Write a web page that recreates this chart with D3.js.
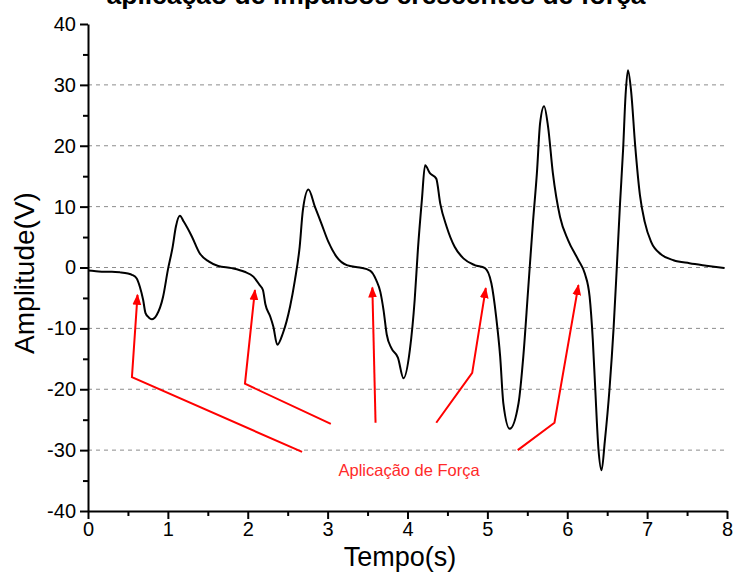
<!DOCTYPE html>
<html>
<head>
<meta charset="utf-8">
<script src="https://cdn.jsdelivr.net/npm/d3@7"></script>
<style>
  html, body { margin: 0; padding: 0; background: #fff; }
  svg { display: block; }
  text { font-family: "Liberation Sans", Arial, sans-serif; }
</style>
</head>
<body>
<svg id="chart" width="733" height="572"></svg>
<script>
// ---- data ----
const titleText = "aplicação de impulsos crescentes de força";
const xLabel = "Tempo(s)";
const yLabel = "Amplitude(V)";
const xTicks = [0, 1, 2, 3, 4, 5, 6, 7, 8];
const yTicks = [-40, -30, -20, -10, 0, 10, 20, 30, 40];
const gridValues = [-30, -20, -10, 0, 10, 20, 30];

const time = [0.00,0.10,0.20,0.30,0.40,0.50,0.55,0.61,0.65,0.69,0.72,0.76,0.80,0.86,0.94,1.00,1.06,1.10,1.15,1.20,1.30,1.40,1.51,1.63,1.80,1.96,2.07,2.15,2.19,2.22,2.28,2.32,2.37,2.44,2.53,2.59,2.65,2.69,2.76,2.84,2.92,3.01,3.11,3.24,3.40,3.53,3.61,3.66,3.70,3.74,3.80,3.88,3.95,4.03,4.09,4.13,4.18,4.22,4.28,4.36,4.41,4.49,4.59,4.70,4.84,4.97,5.05,5.11,5.16,5.20,5.28,5.39,5.45,5.51,5.57,5.62,5.66,5.71,5.76,5.82,5.91,6.01,6.14,6.22,6.28,6.32,6.35,6.39,6.43,6.47,6.53,6.58,6.62,6.66,6.70,6.73,6.76,6.80,6.85,6.91,6.97,7.05,7.18,7.33,7.53,7.74,7.97];
const amplitude = [-0.5,-0.6,-0.7,-0.7,-0.8,-1.0,-1.2,-1.8,-3.2,-5.3,-7.5,-8.2,-8.5,-7.8,-4.8,-0.4,3.4,6.7,8.5,7.5,5.1,2.3,1.0,0.25,-0.1,-0.7,-1.5,-2.9,-3.7,-6.0,-8.0,-9.7,-12.7,-10.8,-6.4,-2.1,3.4,9.4,12.8,10.0,7.3,4.2,1.8,0.4,0.0,-0.5,-2.1,-4.0,-7.0,-11.0,-13.3,-14.8,-18.2,-13.5,-5.3,2.9,11.1,16.8,15.5,14.6,10.5,6.7,3.4,1.5,0.4,-0.1,-2.6,-8.1,-14.6,-22.3,-26.5,-22.3,-14.6,-3.7,7.3,15.5,23.7,26.5,23.1,15.5,8.3,4.5,1.2,-1.0,-4.8,-11.9,-19.8,-29.7,-33.3,-28.6,-19.8,-10.0,-0.1,10.3,19.6,28.3,32.4,28.9,20.1,11.9,7.5,4.2,2.1,1.2,0.7,0.3,-0.1];

// annotation: label and arrow paths (data coordinates, last point = arrow tip)
const annotationText = "Aplicação de Força";
const annotationPos = [4.02, -34.2];
const arrowPaths = [
  [[2.68,-30.3],[0.55,-18.0],[0.62,-4.5]],
  [[3.04,-25.7],[1.965,-19.1],[2.09,-3.7]],
  [[3.60,-25.5],[3.56,-3.3]],
  [[4.36,-25.5],[4.81,-17.3],[4.98,-3.4]],
  [[5.38,-30.0],[5.84,-25.5],[6.14,-2.9]]
];

// ---- drawing ----
const svg = d3.select("#chart");
const x = d3.scaleLinear().domain([0, 8]).range([88, 727]);
const y = d3.scaleLinear().domain([-40, 40]).range([511, 24]);
const fmt = d => String(d);

// grid
svg.append("g").selectAll("line").data(gridValues).join("line")
  .attr("x1", x(0)).attr("x2", x(8))
  .attr("y1", d => y(d)).attr("y2", d => y(d))
  .attr("stroke", "#8c8c8c").attr("stroke-width", 1)
  .attr("stroke-dasharray", "4,4");

// axes
const xMinor = d3.range(0.5, 8, 1);
const yMinor = d3.range(-35, 40, 10);

svg.append("g").attr("transform", `translate(0,${y(-40)})`)
  .call(d3.axisBottom(x).tickValues(xTicks).tickFormat(fmt).tickSize(8).tickSizeOuter(0).tickPadding(3));
svg.append("g").attr("transform", `translate(0,${y(-40)})`)
  .call(d3.axisBottom(x).tickValues(xMinor).tickFormat("").tickSize(5).tickSizeOuter(0))
  .select(".domain").remove();
svg.append("g").attr("transform", `translate(${x(0)},0)`)
  .call(d3.axisLeft(y).tickValues(yTicks).tickFormat(fmt).tickSize(8).tickSizeOuter(0).tickPadding(4));
svg.append("g").attr("transform", `translate(${x(0)},0)`)
  .call(d3.axisLeft(y).tickValues(yMinor).tickFormat("").tickSize(5).tickSizeOuter(0))
  .select(".domain").remove();

svg.selectAll(".domain").attr("stroke", "#000").attr("stroke-width", 2);
svg.selectAll(".tick line").attr("stroke", "#000").attr("stroke-width", 2);
svg.selectAll(".tick text").attr("fill", "#000").style("font-size", "20px")
  .style("font-family", '"Liberation Sans", Arial, sans-serif');

// signal
const line = d3.line().x((d, i) => x(time[i])).y(d => y(d)).curve(d3.curveMonotoneX);
svg.append("path").datum(amplitude)
  .attr("d", line).attr("fill", "none").attr("stroke", "#000")
  .attr("stroke-width", 2).attr("stroke-linejoin", "round");

// arrow marker
svg.append("defs").append("marker")
  .attr("id", "arrowhead").attr("viewBox", "0 0 10 10")
  .attr("refX", 9).attr("refY", 5)
  .attr("markerUnits", "userSpaceOnUse")
  .attr("markerWidth", 11).attr("markerHeight", 11)
  .attr("orient", "auto")
  .append("path").attr("d", "M0,1 L10,5 L0,9 Z").attr("fill", "#ff0000");

const aLine = d3.line().x(d => x(d[0])).y(d => y(d[1]));
svg.append("g").selectAll("path").data(arrowPaths).join("path")
  .attr("d", aLine).attr("fill", "none").attr("stroke", "#ff0000")
  .attr("stroke-width", 2).attr("marker-end", "url(#arrowhead)");

svg.append("text")
  .attr("x", x(annotationPos[0])).attr("y", y(annotationPos[1]))
  .attr("text-anchor", "middle").attr("fill", "#ff2a2a")
  .style("font-size", "16.5px").text(annotationText);

// titles
svg.append("text").attr("x", 376).attr("y", 4)
  .attr("text-anchor", "middle").attr("font-weight", "bold")
  .style("font-size", "26.5px").attr("fill", "#000").text(titleText);

svg.append("text").attr("x", 400).attr("y", 566)
  .attr("text-anchor", "middle").style("font-size", "27px").attr("fill", "#000").text(xLabel);

svg.append("text").attr("transform", `translate(34,273) rotate(-90)`)
  .attr("text-anchor", "middle").style("font-size", "28px").attr("fill", "#000").text(yLabel);
</script>
</body>
</html>
